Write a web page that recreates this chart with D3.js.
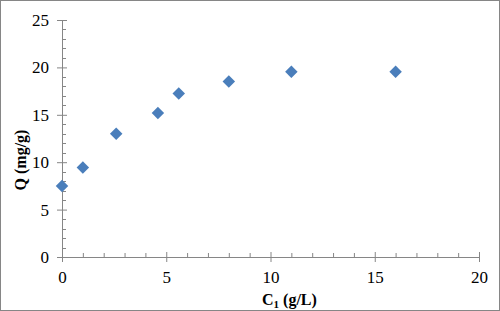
<!DOCTYPE html>
<html>
<head>
<meta charset="utf-8">
<script src="https://cdn.jsdelivr.net/npm/d3@7"></script>
<style>
  body { margin: 0; background: #fff; }
  svg { display: block; }
</style>
</head>
<body>
<div id="chart"></div>
<script>
'use strict';

// readings
var concentration = [0, 1, 2.6, 4.6, 5.6, 8, 11, 16],
    uptake = [7.5, 9.45, 13, 15.2, 17.25, 18.5, 19.55, 19.55],
    xTicks = [0, 5, 10, 15, 20],
    yTicks = [0, 5, 10, 15, 20, 25];

var width = 500,
    height = 311,
    margin = { top: 20, right: 21, bottom: 54, left: 62 },
    plotW = width - margin.left - margin.right,
    plotH = height - margin.top - margin.bottom,
    grey = '#868686',
    serif = '"Times New Roman", "Liberation Serif", serif';

var svg = d3.select('#chart').append('svg').attr('width', width).attr('height', height);

// outer frame
svg.append('rect').attr('x', 0.5).attr('y', 0.5).attr('width', width - 1).attr('height', height - 1)
  .attr('fill', '#fff').attr('stroke', grey);

var g = svg.append('g').attr('transform', 'translate(' + margin.left + ',' + margin.top + ')');

var x = d3.scaleLinear().domain([0, 20]).range([0, plotW]),
    y = d3.scaleLinear().domain([0, 25]).range([plotH, 0]);

// minor ticks, inside the plot
g.append('g').selectAll('line').data(d3.range(1, 20).filter(function (d) { return d % 5; })).enter()
  .append('line').attr('x1', function (d) { return x(d) + 0.5; }).attr('x2', function (d) { return x(d) + 0.5; })
  .attr('y1', plotH).attr('y2', plotH - 4).attr('stroke', grey);
g.append('g').selectAll('line').data(d3.range(1, 25).filter(function (d) { return d % 5; })).enter()
  .append('line').attr('y1', function (d) { return Math.round(y(d)) + 0.5; }).attr('y2', function (d) { return Math.round(y(d)) + 0.5; })
  .attr('x1', 0).attr('x2', 4).attr('stroke', grey);

var xAxis = g.append('g').attr('transform', 'translate(0,' + plotH + ')')
  .call(d3.axisBottom(x).tickValues(xTicks).tickSizeInner(5).tickSizeOuter(0).tickPadding(9));
xAxis.select('.domain').attr('stroke', grey);
xAxis.selectAll('.tick line').attr('stroke', grey).attr('y1', -5);

var yAxis = g.append('g')
  .call(d3.axisLeft(y).tickValues(yTicks).tickSizeInner(5).tickSizeOuter(0).tickPadding(8));
yAxis.select('.domain').attr('stroke', grey);
yAxis.selectAll('.tick line').attr('stroke', grey).attr('x1', 5);

[xAxis, yAxis].forEach(function (a) {
  a.attr('font-family', serif).attr('font-size', 17);
  a.selectAll('.tick text').attr('fill', '#000');
});

// diamonds
g.append('g').selectAll('path').data(concentration).enter().append('path')
  .attr('d', d3.symbol().type(d3.symbolSquare).size(78))
  .attr('transform', function (d, i) { return 'translate(' + x(d) + ',' + y(uptake[i]) + ') rotate(45)'; })
  .attr('fill', '#4a7ebb');

// axis titles
var xl = svg.append('text').attr('font-family', serif).attr('font-size', 16).attr('font-weight', 'bold')
  .attr('x', 262).attr('y', 305);
xl.append('tspan').text('C');
xl.append('tspan').attr('font-size', 11).attr('dy', 3).text('1');
xl.append('tspan').attr('dy', -3).text(' (g/L)');

svg.append('text').attr('font-family', serif).attr('font-size', 16).attr('font-weight', 'bold')
  .attr('text-anchor', 'middle')
  .attr('transform', 'translate(26,160) rotate(-90)').text('Q (mg/g)');
</script>
</body>
</html>
